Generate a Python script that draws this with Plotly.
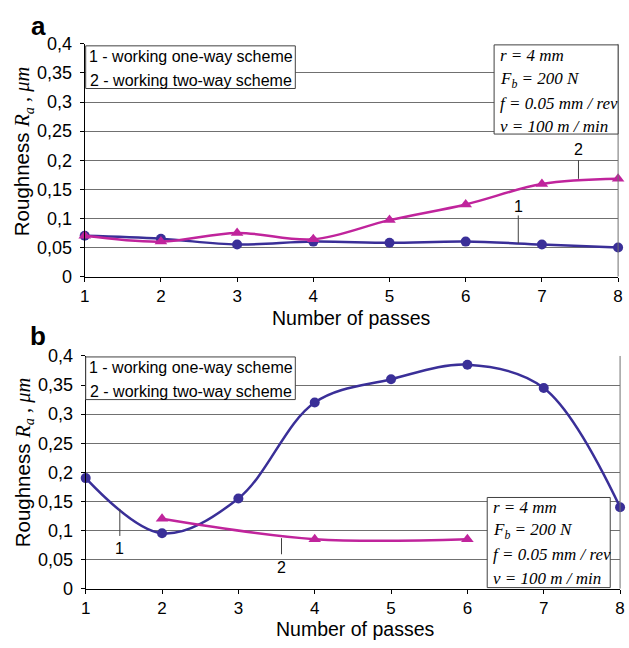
import plotly.graph_objects as go

# ---- data ----
passes = [1, 2, 3, 4, 5, 6, 7, 8]
a_one_way = [0.07, 0.065, 0.055, 0.06, 0.058, 0.06, 0.055, 0.05]
a_two_way = [0.07, 0.06, 0.075, 0.064, 0.097, 0.124, 0.159, 0.168]
b_passes_one = [1, 2, 3, 4, 5, 6, 7, 8]
b_one_way = [0.19, 0.095, 0.155, 0.32, 0.36, 0.385, 0.345, 0.14]
b_passes_two = [2, 4, 6]
b_two_way = [0.12, 0.085, 0.085]
y_ticks = [0, 0.05, 0.1, 0.15, 0.2, 0.25, 0.3, 0.35, 0.4]
y_tick_text = ["0", "0,05", "0,1", "0,15", "0,2", "0,25", "0,3", "0,35", "0,4"]
legend_lines = ["1 - working one-way scheme", "2 - working two-way scheme"]
param_lines = ["r = 4 mm", "F<sub>b</sub> = 200 N", "f = 0.05 mm / rev", "v = 100 m / min"]

W, H = 629, 648
BLUE = "#3a2f98"
MAGENTA = "#c0249c"
SANS = "Liberation Sans, Arial, sans-serif"
SERIF = "Liberation Serif, Times New Roman, serif"


def px(x):
    return x / W


def py(y):
    return 1 - y / H


fig = go.Figure()

# top chart
fig.add_trace(go.Scatter(x=passes, y=a_one_way, mode="lines+markers", line=dict(color=BLUE, width=2.5, shape="spline"),
                         marker=dict(symbol="circle", size=10, color=BLUE), cliponaxis=False, xaxis="x", yaxis="y"))
fig.add_trace(go.Scatter(x=passes, y=a_two_way, mode="lines+markers", line=dict(color=MAGENTA, width=2.5, shape="spline"),
                         marker=dict(symbol="triangle-up", size=11, color=MAGENTA), cliponaxis=False, xaxis="x", yaxis="y"))
# bottom chart
fig.add_trace(go.Scatter(x=b_passes_one, y=b_one_way, mode="lines+markers", line=dict(color=BLUE, width=2.5, shape="spline"),
                         marker=dict(symbol="circle", size=10, color=BLUE), cliponaxis=False, xaxis="x2", yaxis="y2"))
fig.add_trace(go.Scatter(x=b_passes_two, y=b_two_way, mode="lines+markers", line=dict(color=MAGENTA, width=2.5, shape="spline"),
                         marker=dict(symbol="triangle-up", size=11, color=MAGENTA), cliponaxis=False, xaxis="x2", yaxis="y2"))

xtickfont = dict(family=SANS, size=17, color="black")
ytickfont = dict(family=SANS, size=18, color="black")
xcommon = dict(range=[1, 8], tickvals=passes, ticks="outside", ticklen=4, tickcolor="black", showgrid=False,
               showline=True, linecolor="black", linewidth=1, zeroline=False, tickfont=xtickfont)
ycommon = dict(range=[0, 0.4], tickvals=y_ticks, ticktext=y_tick_text, ticks="outside", ticklen=4, tickcolor="black",
               showgrid=True, gridcolor="#707070", gridwidth=1, showline=True, linecolor="black", linewidth=1,
               zeroline=False, tickfont=ytickfont, ticklabelstandoff=4)

# plot rectangles in pixels
A = dict(l=81, r=623, t=35, b=275)
B = dict(l=82, r=625, t=357, b=597)

fig.update_layout(
    width=W, height=H, margin=dict(l=0, r=0, t=0, b=0), showlegend=False,
    paper_bgcolor="white", plot_bgcolor="white",
    xaxis=dict(domain=[px(A["l"]), px(A["r"])], anchor="y", **xcommon),
    yaxis=dict(domain=[py(A["b"]), py(A["t"])], anchor="x", **ycommon),
    xaxis2=dict(domain=[px(B["l"]), px(B["r"])], anchor="y2", **xcommon),
    yaxis2=dict(domain=[py(B["b"]), py(B["t"])], anchor="x2", **ycommon),
)

shapes = []
annotations = []

for R in (A, B):
    # right border
    shapes.append(dict(type="line", xref="paper", yref="paper", x0=px(R["r"]), x1=px(R["r"]), y0=py(R["b"]), y1=py(R["t"]),
                       line=dict(color="#707070", width=1)))

# legend boxes
for top, lab_y in ((37, (48, 73)), (358, (369, 394))):
    shapes.append(dict(type="rect", xref="paper", yref="paper", x0=px(82), x1=px(295), y0=py(top + 44), y1=py(top),
                       fillcolor="white", line=dict(color="#404040", width=1), layer="above"))
    for t, yy in zip(legend_lines, lab_y):
        annotations.append(dict(xref="paper", yref="paper", x=px(188.5), y=py(yy), text=t, showarrow=False,
                                xanchor="center", yanchor="middle", font=dict(family=SANS, size=16, color="black")))

# parameter boxes
for box, ys, tx in ((dict(l=497, r=623, t=36, b=128), (47, 72, 96, 120), 501),
                    (dict(l=490, r=615, t=503, b=596), (513, 538, 562, 587), 494)):
    shapes.append(dict(type="rect", xref="paper", yref="paper", x0=px(box["l"]), x1=px(box["r"]), y0=py(box["b"]),
                       y1=py(box["t"]), fillcolor="white", line=dict(color="#404040", width=1), layer="above"))
    for t, yy in zip(param_lines, ys):
        annotations.append(dict(xref="paper", yref="paper", x=px(tx), y=py(yy), text="<i>" + t + "</i>", showarrow=False,
                                xanchor="left", yanchor="middle", font=dict(family=SERIF, size=17, color="black")))

# callouts (data coordinates)
callouts = [
    ("x", "y", 6.69, 0.105, 0.057, 0.12, "1"),
    ("x", "y", 7.48, 0.2, 0.168, 0.218, "2"),
    ("x2", "y2", 1.447, 0.137, 0.0905, 0.069, "1"),
    ("x2", "y2", 3.565, 0.0867, 0.059, 0.037, "2"),
]
for xr, yr, cx, y0, y1, ly, lab in callouts:
    shapes.append(dict(type="line", xref=xr, yref=yr, x0=cx, x1=cx, y0=y0, y1=y1, line=dict(color="#404040", width=1)))
    annotations.append(dict(xref=xr, yref=yr, x=cx, y=ly, text=lab, showarrow=False, xanchor="center", yanchor="middle",
                            font=dict(family=SANS, size=16, color="black")))

# axis titles
ytitle = ("Roughness <span style='font-family:Liberation Serif'><i>R<sub>a</sub></i></span>"
          "<span style='font-family:Liberation Serif'><i> , μm</i></span>")
for cy in (146, 467):
    annotations.append(dict(xref="paper", yref="paper", x=px(19), y=py(cy), text=ytitle, textangle=-90, showarrow=False,
                            xanchor="center", yanchor="middle", font=dict(family=SANS, size=20.5, color="black")))
for cx, cy in ((352, 318), (356, 639)):
    annotations.append(dict(xref="paper", yref="paper", x=px(cx), y=py(cy), text="Number of passes", showarrow=False,
                            xanchor="center", yanchor="middle", font=dict(family=SANS, size=19.5, color="black")))

# panel letters
for lab, cy in (("a", 17), ("b", 336)):
    annotations.append(dict(xref="paper", yref="paper", x=px(34), y=py(cy), text="<b>" + lab + "</b>", showarrow=False,
                            xanchor="center", yanchor="middle", font=dict(family=SANS, size=26, color="black")))

fig.update_layout(shapes=shapes, annotations=annotations)
fig.write_html("out.html")
